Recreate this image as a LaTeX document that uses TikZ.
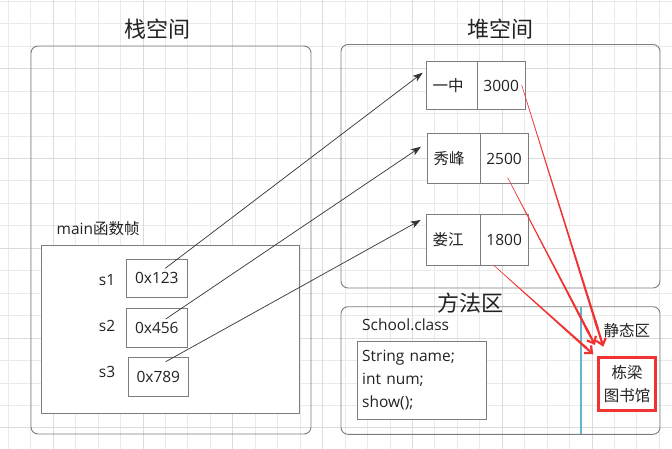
\documentclass[tikz,border=0pt]{standalone}
\usepackage{fontspec}
\setmainfont{Open Sans}
\newfontfamily\cjk{Noto Sans CJK SC}
\usetikzlibrary{arrows.meta,calc,shadows}
\definecolor{gridminor}{RGB}{234,234,234}
\definecolor{gridmajor}{RGB}{220,220,220}
\definecolor{boxgray}{RGB}{125,125,125}
\definecolor{txt}{RGB}{34,34,34}
\definecolor{tealline}{RGB}{100,180,205}
\definecolor{redline}{RGB}{240,50,50}
\newcommand\redarrow[2]{%
  \coordinate (#1m) at ($(#1)!0.93!(#2)$);
  \fill[redline] ($(#1)!0.25pt!90:(#2)$) -- ($(#1m)!1.2pt!-90:(#1)$) -- ($(#1m)!1.2pt!90:(#1)$) -- ($(#1)!0.25pt!-90:(#2)$) -- cycle;
  \draw[redline, line width=2.2pt, -{Straight Barb[length=6pt,width=10pt]}] ($(#1)!0.9!(#2)$) -- (#2);
}
\begin{document}
\begin{tikzpicture}[x=1pt,y=-1pt,
  region/.style={draw=boxgray, line width=0.9pt, rounded corners=7pt, inner sep=0pt},
  cell/.style={draw=boxgray, line width=0.9pt, fill=white, inner sep=0pt, font=\fontsize{15.5}{18}\selectfont, text=txt},
  namecell/.style={cell, align=left, inner xsep=6pt},
  title/.style={font=\cjk\fontsize{22}{26}\selectfont, text=txt, inner sep=0pt},
  lbl/.style={font=\fontsize{15.5}{18}\selectfont, text=txt, inner sep=0pt},
  ptr/.style={draw=black!80, line width=0.7pt, -{Stealth[length=10pt,width=7pt,inset=2.5pt]}},
]
\fill[white] (0,0) rectangle (672,449);
\useasboundingbox (0,0) rectangle (672,449);
% grid
\foreach \k in {0,...,29} {
  \pgfmathsetmacro\gx{8.3+22.45*\k}
  \draw[gridminor, line width=0.9pt] (\gx,0) -- (\gx,449);
}
\foreach \k in {0,...,19} {
  \pgfmathsetmacro\gy{1.3+22.45*\k}
  \draw[gridminor, line width=0.9pt] (0,\gy) -- (672,\gy);
}
\foreach \k in {2,6,...,26} {
  \pgfmathsetmacro\gx{8.3+22.45*\k}
  \draw[gridmajor, line width=0.9pt] (\gx,0) -- (\gx,449);
}
\foreach \k in {3,7,...,19} {
  \pgfmathsetmacro\gy{1.3+22.45*\k}
  \draw[gridmajor, line width=0.9pt] (0,\gy) -- (672,\gy);
}

% stack
\node[title] (tstack) at (157,29.5) {栈空间};
\node[region, minimum width=280pt, minimum height=388pt] (stack) at (171,240) {};
\node[lbl, anchor=west] (mainlbl) at (56.5,228.3) {main{\cjk 函数帧}};
\node[cell, minimum width=258pt, minimum height=167.6pt] (frame) at (170,329.5) {};
\node[lbl] (s1) at (107,280) {s1};
\node[lbl] (s2) at (107,326) {s2};
\node[lbl] (s3) at (107,372) {s3};
\node[cell, minimum width=61pt, minimum height=38.7pt] (p1) at (156.8,278.3) {0x123};
\node[cell, minimum width=61pt, minimum height=39pt] (p2) at (156.8,327.8) {0x456};
\node[cell, minimum width=60pt, minimum height=39pt] (p3) at (158.3,377.2) {0x789};

% heap
\node[title] (theap) at (500.5,29.5) {堆空间};
\node[region, minimum width=319pt, minimum height=243.5pt] (heap) at (500.5,166.25) {};
\node[namecell, text width=38.3pt, minimum height=47.6pt] (h1n) at (451.85,85.5) {\cjk 一中};
\node[cell, minimum width=48.3pt, minimum height=47.6pt] (h1v) at (501.15,85.5) {3000};
\node[namecell, text width=40.3pt, minimum height=50pt] (h2n) at (453.85,158.7) {\cjk 秀峰};
\node[cell, minimum width=48pt, minimum height=50pt] (h2v) at (504,158.7) {2500};
\node[namecell, text width=41.3pt, minimum height=51.3pt] (h3n) at (453.35,239.65) {\cjk 娄江};
\node[cell, minimum width=48.3pt, minimum height=51.3pt] (h3v) at (504.15,239.65) {1800};

% method area
\node[region, minimum width=319pt, minimum height=127.6pt] (method) at (500.5,370.5) {};
\node[title] (tmethod) at (470.7,303) {方法区};
\node[lbl, anchor=west] (school) at (362,325) {School.class};
\node[cell, text width=120pt, inner xsep=4.5pt, minimum height=78.3pt, align=left, font=\fontsize{15.5}{23}\selectfont] (cls) at (422.2,380.15) {String name;\\int num;\\show();};
\coordinate (tl1) at (581,306.7);
\coordinate (tl2) at (581,434.3);
\draw[tealline, line width=1.6pt] (tl1) -- (tl2);
\node[lbl, font=\cjk\fontsize{15.5}{18}\selectfont] (static) at (626.8,331) {静态区};
\node[draw=redline, line width=3pt, fill=white, minimum width=57pt, minimum height=52.7pt, inner sep=0pt,
  drop shadow={shadow xshift=1.5pt, shadow yshift=-1.5pt, opacity=0.3},
  align=center, text=txt, font=\cjk\fontsize{15.5}{22.5}\selectfont] (lib) at (627,383.85) {栋梁\\图书馆};

% pointer arrows
\coordinate (a1s) at ($(p1.center)+(8.5,-10)$);
\coordinate (a2s) at ($(p2.center)+(8.9,-8.8)$);
\coordinate (a3s) at ($(p3.center)+(7.4,-15.5)$);
\coordinate (a1e) at (422.7,72.7);
\coordinate (a2e) at (421,146.7);
\coordinate (a3e) at (420.7,220);
\draw[ptr] (a1s) -- (a1e);
\draw[ptr] (a2s) -- (a2e);
\draw[ptr] (a3s) -- (a3e);

% red arrows
\coordinate (rA) at ($(h1v.center)+(20.5,-0.5)$);
\coordinate (rB) at ($(h2v.center)+(3.7,19)$);
\coordinate (rC) at ($(h3v.center)+(-10.8,25.3)$);
\coordinate (eA) at (603.3,346.7);
\coordinate (eB) at (595,345);
\coordinate (eC) at (593.3,354.3);
\redarrow{rA}{eA}
\redarrow{rB}{eB}
\redarrow{rC}{eC}
\end{tikzpicture}
\end{document}
